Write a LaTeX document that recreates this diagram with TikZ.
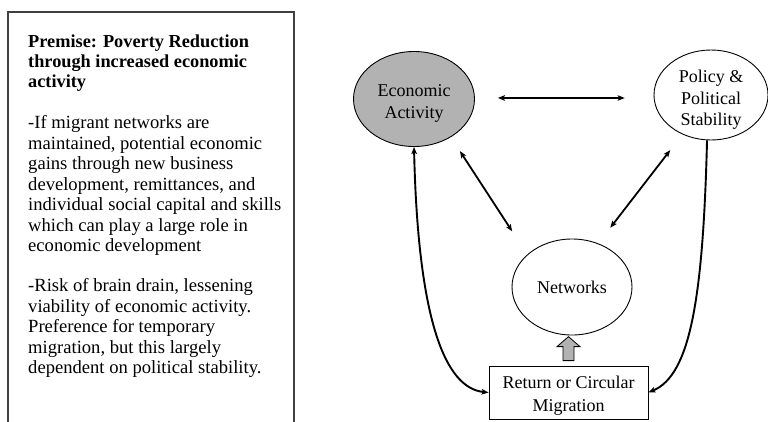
\documentclass[tikz,border=0pt]{standalone}
\usepackage{fontspec}
\setmainfont{Liberation Serif}
\usetikzlibrary{shapes.geometric,arrows.meta,calc}
\tikzset{
  bub/.style={ellipse, draw=black, line width=0.9pt, inner sep=0pt},
  txt/.style={align=center, inner sep=0pt, font=\fontsize{18}{21.5}\selectfont},
  lefttxt/.style={align=left, inner sep=0pt, anchor=north west, font=\fontsize{18.6}{20.5}\selectfont},
  conn/.style={line width=1.8pt, {Stealth[length=7pt,width=5.5pt,inset=1.5pt]}-{Stealth[length=7pt,width=5.5pt,inset=1.5pt]}},
  conn1/.style={line width=1.9pt, -{Stealth[length=7pt,width=5.5pt,inset=1.5pt]}},
  conn2/.style={line width=1.9pt, {Stealth[length=7pt,width=5.5pt,inset=1.5pt]}-{Stealth[length=7pt,width=5.5pt,inset=1.5pt]}},
  migbox/.style={draw=black, line width=0.8pt, minimum width=159pt, minimum height=53pt, inner sep=0pt},
  frame/.style={draw=black!75, line width=1.5pt}
}
\begin{document}
\begin{tikzpicture}[x=1pt,y=-1pt]
\useasboundingbox (0,0) rectangle (768,421);
% left panel
\draw[frame] (8,425) -- (8,12) -- (294,12) -- (294,425);
\node[lefttxt, font=\fontsize{18.3}{20}\selectfont\bfseries] (head) at (28,35) {Premise: Poverty Reduction\\through increased economic\\activity};
\node[lefttxt] (p1) at (28,115.5) {-If migrant networks are\\maintained, potential economic\\gains through new business\\development, remittances, and\\individual social capital and skills\\which can play a large role in\\economic development};
\node[lefttxt] (p2) at (28,278.5) {-Risk of brain drain, lessening\\viability of economic activity.\\Preference for temporary\\migration, but this largely\\dependent on political stability.};
% right diagram
\node[bub, fill=black!30, minimum width=121pt, minimum height=95pt] (ea) at (414,99) {};
\node[txt] (eat) at ($(ea.center)+(0,4.5)$) {Economic\\Activity};
\node[bub, minimum width=114pt, minimum height=90pt] (pol) at (711,95) {};
\node[txt] (polt) at ($(pol.center)+(0,5)$) {Policy \&\\Political\\Stability};
\node[bub, minimum width=120pt, minimum height=96pt] (net) at (572,287) {};
\node[txt] (nett) at (net.center) {Networks};
\node[migbox] (box) at (568.5,392.5) {};
\node[txt, font=\fontsize{18}{23}\selectfont] (boxt) at ($(box.center)+(0,3.5)$) {Return or Circular\\Migration};
% connectors
\draw[conn, shorten <=23pt, shorten >=29pt] (ea.1) -- (pol.183);
\draw[conn, shorten <=16.6pt, shorten >=27.6pt] (ea.-46.5) -- (net.144.6);
\draw[conn, shorten <=19.9pt, shorten >=19.7pt] (pol.234.8) -- (net.59.2);
\draw[conn2] (ea.south) .. controls (418,320) and (445,388) .. (box.west);
\draw[conn1] (pol.-95) .. controls (703,300) and (690,375) .. (box.east);
% block arrow
\draw[fill=black!30, line width=0.8pt]
  ($(box.north)+(-5.5,-5)$) -- ($(box.north)+(-5.5,-19)$) -- ($(box.north)+(-11.5,-19)$)
  -- ($(box.north)+(0,-29)$) -- ($(box.north)+(11.5,-19)$) -- ($(box.north)+(5.5,-19)$)
  -- ($(box.north)+(5.5,-5)$) -- cycle;
\end{tikzpicture}
\end{document}
